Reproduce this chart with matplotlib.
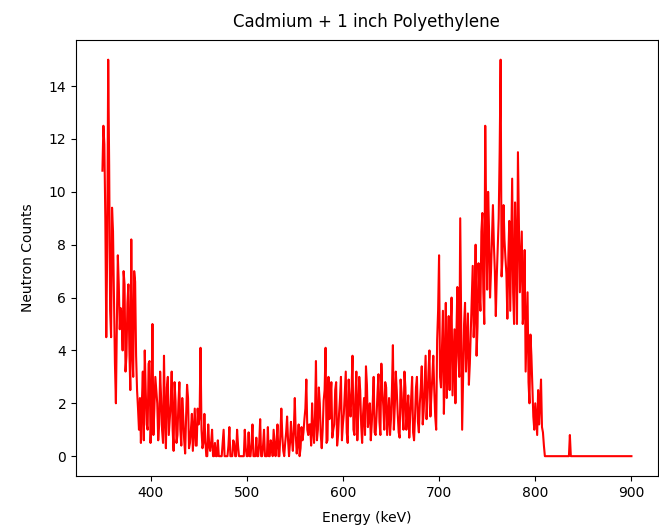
import numpy as np
import matplotlib.pyplot as plt

# counts, 1 keV bins
# even energies 350, 352, ..., 810
counts_even = [
    10.8, 11.8, 4.5, 15.0, 5.5, 9.4, 6.0, 2.0, 7.6, 4.8,
    5.3, 7.0, 3.2, 5.8, 4.0, 8.2, 3.0, 6.6, 2.5, 1.0,
    0.5, 3.2, 4.0, 1.2, 3.5, 0.5, 5.0, 1.8, 2.5, 0.6,
    3.2, 1.0, 3.8, 0.3, 3.0, 1.4, 3.2, 0.2, 2.1, 0.8,
    2.8, 0.4, 1.5, 0.1, 2.7, 0.3, 1.0, 0.2, 1.8, 0.4,
    1.2, 4.1, 0.3, 1.6, 0.0, 1.2, 0.2, 1.0, 0.0, 0.0,
    0.6, 0.0, 0.0, 1.0, 0.0, 0.0, 1.1, 0.0, 0.6, 0.0,
    1.0, 0.0, 0.0, 0.0, 1.0, 0.0, 0.9, 0.0, 1.2, 0.0,
    0.7, 0.0, 1.4, 0.0, 1.0, 0.0, 1.1, 0.0, 0.4, 1.0,
    0.0, 1.2, 0.0, 1.8, 0.2, 0.5, 1.5, 0.0, 1.3, 0.2,
    2.2, 0.1, 1.2, 0.3, 0.6, 1.4, 2.9, 0.8, 1.2, 2.0,
    0.5, 3.6, 1.0, 2.0, 0.3, 2.1, 4.1, 0.6, 1.4, 2.8,
    1.0, 2.5, 0.4, 1.6, 3.0, 1.2, 2.4, 0.9, 2.9, 1.5,
    3.8, 0.8, 3.2, 1.6, 2.5, 0.5, 2.2, 3.4, 1.1, 2.0,
    1.2, 3.0, 0.8, 2.4, 1.3, 3.5, 1.9, 2.8, 0.8, 2.2,
    1.4, 4.2, 1.9, 2.5, 0.9, 2.9, 1.6, 3.2, 1.0, 2.3,
    1.5, 3.0, 0.6, 2.6, 1.3, 2.0, 3.4, 1.7, 3.8, 2.2,
    4.0, 2.3, 3.8, 1.5, 4.4, 7.6, 2.6, 5.5, 3.4, 2.2,
    5.3, 4.8, 2.3, 4.8, 4.5, 3.8, 9.0, 1.0, 5.0, 3.2,
    5.4, 3.5, 6.0, 4.5, 8.0, 4.9, 6.2, 8.5, 6.2, 12.5,
    6.3, 8.5, 7.0, 9.5, 7.0, 6.8, 9.0, 15.0, 7.5, 8.2,
    6.9, 7.5, 5.5, 10.5, 5.0, 8.0, 11.5, 6.2, 8.5, 5.5,
    3.2, 6.2, 2.0, 3.8, 1.5, 2.0, 0.8, 1.2, 2.9, 0.9,
    0.0,
]
# odd energies 351, 353, ..., 809
counts_odd = [
    12.5, 9.0, 8.0, 11.0, 4.5, 8.5, 3.5, 5.0, 6.5, 5.6,
    4.0, 6.5, 3.8, 6.5, 2.5, 4.0, 7.0, 3.8, 1.8, 2.2,
    2.0, 0.6, 2.5, 1.0, 3.6, 1.5, 0.8, 3.0, 2.0, 1.2,
    2.2, 0.5, 1.5, 2.6, 0.8, 2.0, 1.0, 2.8, 0.5, 2.0,
    1.0, 2.2, 0.6, 1.5, 2.2, 0.5, 1.6, 1.0, 0.4, 1.8,
    1.5, 1.0, 0.5, 0.6, 0.0, 0.4, 0.5, 0.0, 0.5, 0.0,
    0.0, 0.0, 0.5, 0.0, 0.0, 0.4, 0.0, 0.0, 0.5, 0.0,
    0.4, 0.0, 0.0, 0.0, 0.3, 0.0, 0.0, 0.5, 0.0, 0.0,
    0.0, 0.5, 0.0, 0.4, 0.0, 0.0, 0.0, 0.6, 0.0, 0.5,
    0.5, 0.0, 0.8, 0.8, 0.0, 0.9, 0.6, 0.5, 0.6, 1.0,
    0.8, 0.5, 0.0, 1.1, 0.9, 1.8, 1.0, 1.2, 0.4, 1.0,
    1.5, 0.6, 2.6, 0.8, 1.0, 2.5, 0.5, 3.0, 2.2, 0.7,
    1.2, 2.8, 0.8, 2.2, 0.6, 1.6, 3.2, 0.5, 2.0, 2.5,
    1.0, 2.2, 0.6, 3.0, 1.2, 1.6, 0.8, 2.7, 1.5, 0.6,
    2.0, 0.9, 1.5, 3.1, 0.8, 2.5, 1.0, 2.6, 1.5, 0.8,
    2.5, 1.0, 3.2, 1.6, 0.7, 2.4, 1.0, 2.6, 1.6, 0.7,
    2.2, 0.9, 1.5, 3.0, 0.9, 2.6, 1.2, 2.8, 1.4, 3.2,
    1.5, 3.0, 2.5, 1.0, 5.5, 3.0, 4.0, 1.6, 5.8, 3.5,
    2.5, 6.0, 3.5, 2.0, 6.4, 3.0, 5.0, 3.0, 5.8, 4.3,
    2.7, 4.7, 7.2, 5.5, 3.8, 7.3, 5.5, 9.2, 5.0, 9.0,
    10.0, 6.0, 8.3, 8.0, 5.3, 7.9, 11.5, 6.8, 9.5, 7.5,
    5.2, 8.9, 8.0, 6.2, 9.6, 5.0, 8.8, 7.3, 5.0, 7.8,
    4.7, 2.8, 4.6, 2.6, 1.0, 1.4, 2.5, 2.0, 1.1, 0.4,
]
spike_energy = 836
spike_count = 0.8

energy = np.arange(350, 901)
counts = np.zeros(len(energy))
counts[0:2 * len(counts_even) - 1:2] = counts_even
counts[1:2 * len(counts_odd):2] = counts_odd
counts[energy == spike_energy] = spike_count

fig = plt.figure(figsize=(6.59, 5.28), dpi=100)
ax = fig.add_axes([0.1153, 0.0985, 0.883, 0.826])
ax.plot(energy, counts, color='r')
ax.set_title('Cadmium + 1 inch Polyethylene', pad=9)
ax.set_xlabel('Energy (keV)', labelpad=8)
ax.set_ylabel('Neutron Counts', labelpad=10)
fig.savefig('out.png')
